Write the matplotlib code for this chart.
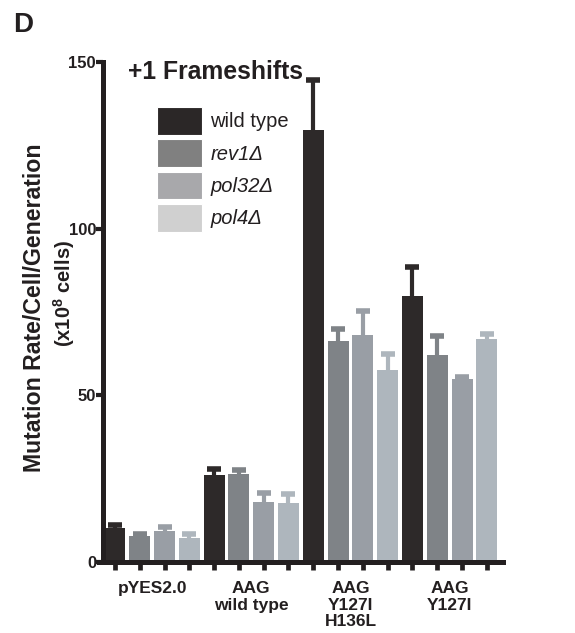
import matplotlib
matplotlib.use("Agg")
import matplotlib.pyplot as plt
from matplotlib.patches import Patch
import numpy as np

plt.rcParams['font.family'] = ['Liberation Sans', 'DejaVu Sans']
plt.rcParams['mathtext.fontset'] = 'custom'
plt.rcParams['mathtext.rm'] = 'Liberation Sans'
plt.rcParams['mathtext.bf'] = 'Liberation Sans:bold'

groups = ["pYES2.0", "AAG\nwild type", "AAG\nY127I\nH136L", "AAG\nY127I"]
strains = ["wild type", "rev1Δ", "pol32Δ", "pol4Δ"]
means = {
    "wild type": [10.1, 26.2, 129.7, 79.9],
    "rev1Δ":     [7.9, 26.5, 66.4, 62.2],
    "pol32Δ":    [9.4, 18.1, 68.2, 55.0],
    "pol4Δ":     [7.1, 17.8, 57.6, 66.8],
}
errs = {
    "wild type": [0.9, 1.8, 15.0, 8.7],
    "rev1Δ":     [0.4, 1.0, 3.5, 5.7],
    "pol32Δ":    [1.2, 2.7, 7.0, 0.4],
    "pol4Δ":     [1.2, 2.6, 4.7, 1.6],
}
bar_colors = ["#2d2929", "#7f8387", "#999ea5", "#aeb6bd"]
legend_colors = ["#2b2727", "#808080", "#a8a8ab", "#d0d0d0"]
yticks = [0, 50, 100, 150]

ink = "#231f20"
fig = plt.figure(figsize=(5.75, 6.33), dpi=100)
ax = fig.add_axes([103/575, 1-562/633, 400/575, 500/633])

ng = len(groups); ns = len(strains)
width = 0.85
for j, s in enumerate(strains):
    xs = np.arange(ng) * ns + j
    ax.bar(xs, means[s], width=width, color=bar_colors[j], zorder=2)
    _, caps, _ = ax.errorbar(xs, means[s], yerr=[np.zeros(ng), errs[s]], fmt='none',
                             ecolor=bar_colors[j], elinewidth=3, capsize=5, capthick=4, zorder=1)
    for c in caps:
        if np.allclose(c.get_ydata(), means[s]):
            c.set_visible(False)

ax.set_xlim(-0.48, ng*ns - 1 + 0.65)
ax.set_ylim(0, 150)
for sp in ["top", "right"]:
    ax.spines[sp].set_visible(False)
for sp in ["left", "bottom"]:
    ax.spines[sp].set_linewidth(3.6)
    ax.spines[sp].set_color(ink)
ax.spines["bottom"].set_bounds(-0.65, ng*ns - 1 + 0.65)

ax.set_yticks(yticks)
ax.set_yticklabels([str(v) for v in yticks], fontsize=12, fontweight='bold', color=ink)
ax.tick_params(axis='y', length=5, width=3, color=ink, pad=0)

centers = np.arange(ng) * ns + (ns - 1) / 2
ax.set_xticks(centers)
ax.set_xticklabels(groups, fontsize=12.5, fontweight='bold', color=ink, linespacing=1.12)
ax.tick_params(axis='x', which='major', length=0, pad=14)
ax.set_xticks(np.arange(ng*ns), minor=True)
ax.tick_params(axis='x', which='minor', length=6, width=3.4, color=ink)

fig.text(35/575, 1-308/633, "Mutation Rate/Cell/Generation", rotation=90, ha='center', va='center',
         fontsize=16.7, fontweight='bold', color=ink)
fig.text(64/575, 1-294/633, "(x10$^{\\mathbf{8}}$ cells)", rotation=90, ha='center', va='center',
         fontsize=14.5, fontweight='bold', color=ink)

fig.text(13/575, 1-32/633, "D", fontsize=20, fontweight='bold', color=ink, ha='left', va='baseline')
fig.text(128/575, 1-79/633, "+1 Frameshifts", fontsize=17.8, fontweight='bold', color=ink, ha='left', va='baseline')

handles = [Patch(facecolor=c, edgecolor='white', linewidth=0.8) for c in legend_colors]
leg = ax.legend(handles, strains, loc='upper left', bbox_to_anchor=(157/575, 1-107/633),
                bbox_transform=fig.transFigure, frameon=False, fontsize=14.5,
                handlelength=2.25, handleheight=1.75, labelspacing=0.22, handletextpad=0.4,
                borderpad=0, borderaxespad=0)
for i, t in enumerate(leg.get_texts()):
    t.set_color(ink)
    if i > 0:
        t.set_fontstyle('italic')

fig.savefig("out.png", dpi=100)
